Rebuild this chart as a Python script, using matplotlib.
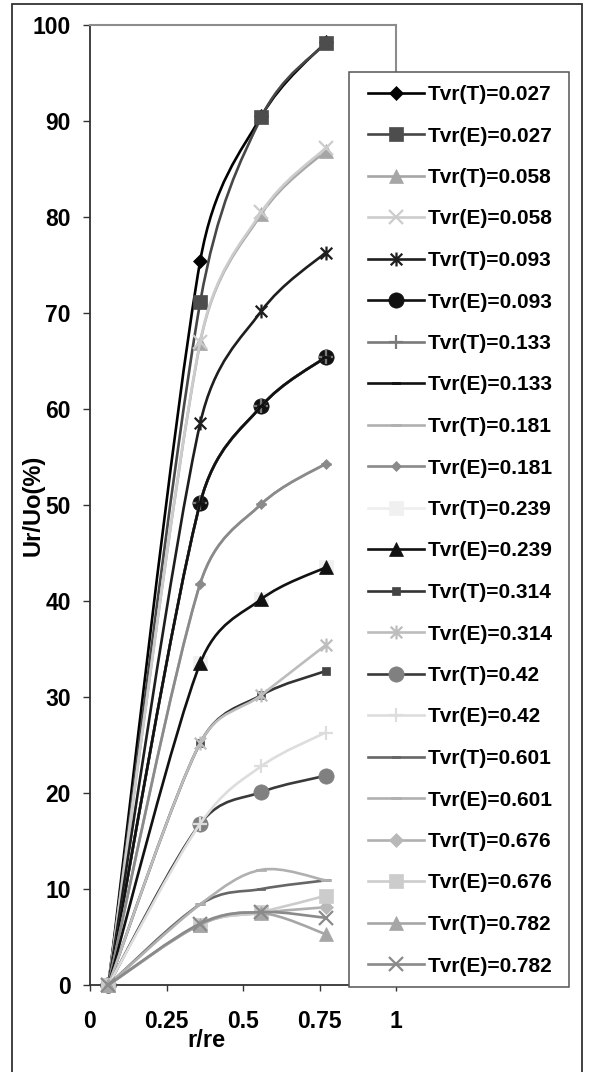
import matplotlib
matplotlib.use("Agg")
import matplotlib.pyplot as plt
from matplotlib.path import Path
from matplotlib.patches import PathPatch, Rectangle
from matplotlib.lines import Line2D
import numpy as np

plt.rcParams['font.family'] = ['Liberation Sans', 'DejaVu Sans']
plt.rcParams['font.weight'] = 'bold'

# ---------------- data ----------------
r_re = [0.06, 0.36, 0.56, 0.77]

labels = ["Tvr(T)=0.027", "Tvr(E)=0.027", "Tvr(T)=0.058", "Tvr(E)=0.058",
          "Tvr(T)=0.093", "Tvr(E)=0.093", "Tvr(T)=0.133", "Tvr(E)=0.133",
          "Tvr(T)=0.181", "Tvr(E)=0.181", "Tvr(T)=0.239", "Tvr(E)=0.239",
          "Tvr(T)=0.314", "Tvr(E)=0.314", "Tvr(T)=0.42", "Tvr(E)=0.42",
          "Tvr(T)=0.601", "Tvr(E)=0.601", "Tvr(T)=0.676", "Tvr(E)=0.676",
          "Tvr(T)=0.782", "Tvr(E)=0.782"]

ur_uo = [
    [0, 75.4, 90.5, 98.2],
    [0, 71.1, 90.4, 98.1],
    [0, 66.9, 80.3, 86.9],
    [0, 67.0, 80.5, 87.2],
    [0, 58.5, 70.2, 76.3],
    [0, 50.2, 60.3, 65.4],
    [0, 50.2, 60.3, 65.4],
    [0, 50.2, 60.3, 65.4],
    [0, 41.8, 50.1, 54.3],
    [0, 41.8, 50.1, 54.3],
    [0, 33.5, 40.2, 43.5],
    [0, 33.5, 40.2, 43.5],
    [0, 25.2, 30.2, 32.7],
    [0, 25.2, 30.2, 35.4],
    [0, 16.8, 20.1, 21.8],
    [0, 16.8, 22.8, 26.3],
    [0, 8.4, 10.0, 10.9],
    [0, 8.4, 12.0, 10.9],
    [0, 6.3, 7.5, 8.1],
    [0, 6.3, 7.6, 9.3],
    [0, 6.3, 7.5, 5.3],
    [0, 6.4, 7.6, 7.0],
]

# ---------------- styles ----------------
asterisk = Path([(-1, -1), (1, 1), (-1, 1), (1, -1), (0, -1.2), (0, 1.2)],
                [Path.MOVETO, Path.LINETO, Path.MOVETO, Path.LINETO, Path.MOVETO, Path.LINETO])
dash = Path([(-1, -0.3), (1, -0.3), (1, 0.3), (-1, 0.3), (-1, -0.3)],
            [Path.MOVETO, Path.LINETO, Path.LINETO, Path.LINETO, Path.CLOSEPOLY])

line_colors = ["#000000", "#474747", "#a6a6a6", "#cccccc", "#1e1e1e", "#111111",
               "#7a7a7a", "#111111", "#b0b0b0", "#8a8a8a", "#eeeeee", "#111111",
               "#333333", "#bdbdbd", "#3a3a3a", "#dddddd", "#666666", "#b0b0b0",
               "#b0b0b0", "#cccccc", "#a6a6a6", "#8a8a8a"]
marker_colors = ["#000000", "#4d4d4d", "#a6a6a6", "#cccccc", "#1e1e1e", "#111111",
                 "#7a7a7a", "#111111", "#b0b0b0", "#8a8a8a", "#f0f0f0", "#111111",
                 "#444444", "#bdbdbd", "#808080", "#dddddd", "#666666", "#b0b0b0",
                 "#b8b8b8", "#cccccc", "#a6a6a6", "#8a8a8a"]
markers = ["D", "s", "^", "x", asterisk, "o", "+", dash, dash, "D", "s", "^",
           "s", asterisk, "o", "+", dash, dash, "D", "s", "^", "x"]
marker_sizes = [7, 10, 10.5, 10, 10, 11, 10, 6, 7, 5.5, 9.5, 10.5,
                5.5, 10, 11, 10, 6, 7, 7, 10, 10.5, 10]

W, H = 589, 1072
fig = plt.figure(figsize=(W / 100, H / 100), dpi=100)
ax = fig.add_axes([90 / W, (H - 985) / H, 306 / W, 960 / H])
ax.set_xlim(0, 1)
ax.set_ylim(0, 100)


def excel_smooth(xs, ys):
    # Excel-style smoothed line: Bezier handles of 1/6 of the neighbour chord,
    # limited to half the segment length, worked out in screen space
    p = ax.transData.transform(np.column_stack([xs, ys]).astype(float))
    n = len(p)
    verts, codes = [p[0]], [Path.MOVETO]
    for i in range(n - 1):
        seg = np.linalg.norm(p[i + 1] - p[i])
        t0 = (p[i + 1] - p[max(i - 1, 0)]) / 6
        t1 = (p[min(i + 2, n - 1)] - p[i]) / 6
        for t in (t0, t1):
            L = np.linalg.norm(t)
            if L > seg / 2:
                t *= (seg / 2) / L
        verts += [p[i] + t0, p[i + 1] - t1, p[i + 1]]
        codes += [Path.CURVE4] * 3
    return Path(ax.transData.inverted().transform(np.array(verts)), codes)


handles = []
for i, ys in enumerate(ur_uo):
    z = 3 + i * 0.01
    ax.add_patch(PathPatch(excel_smooth(r_re, ys), fill=False, edgecolor=line_colors[i],
                           lw=1.9, zorder=z, capstyle='round'))
    filled = markers[i] not in ("x", "+") and markers[i] is not asterisk
    mkw = dict(marker=markers[i], markersize=marker_sizes[i],
               markerfacecolor=marker_colors[i] if filled else "none",
               markeredgecolor=marker_colors[i],
               markeredgewidth=0.5 if filled else 1.6)
    ax.plot(r_re, ys, linestyle="none", clip_on=False, zorder=z + 0.005, **mkw)
    handles.append(Line2D([], [], color=line_colors[i], lw=1.9, **mkw))

ax.set_xticks([0, 0.25, 0.5, 0.75, 1])
ax.set_xticklabels(["0", "0.25", "0.5", "0.75", "1"])
ax.set_yticks(range(0, 101, 10))

for s in ("left", "bottom"):
    ax.spines[s].set_color("#333333")
    ax.spines[s].set_linewidth(1.3)
for s in ("top", "right"):
    ax.spines[s].set_color("#8c8c8c")
    ax.spines[s].set_linewidth(1.5)

ax.tick_params(axis="y", direction="out", length=5, width=1, color="#333333",
               pad=8.9, labelsize=16.5)
ax.tick_params(axis="x", direction="out", length=4.3, width=1, color="#333333",
               pad=13.5, labelsize=16.5)

ax.set_xlabel("r/re", fontsize=17, fontweight="bold")
ax.xaxis.set_label_coords(0.382, -0.046)
ax.set_ylabel("Ur/Uo(%)", fontsize=17, fontweight="bold")
ax.yaxis.label.set_va("center")
ax.yaxis.set_label_coords(-0.186, 0.5)

# legend frame and outer chart border
fig.patches.append(Rectangle((349 / W, (H - 987) / H), 220 / W, 915 / H,
                             transform=fig.transFigure, facecolor="white",
                             edgecolor="#555555", lw=1.1, zorder=1))
fig.patches.append(Rectangle((12 / W, -0.02), 570 / W, (H - 4) / H + 0.02,
                             transform=fig.transFigure, facecolor="none",
                             edgecolor="#333333", lw=1.3, zorder=1))

fig.legend(handles, labels, loc="upper left", bbox_to_anchor=(368 / W, 1 - 85 / H),
           bbox_transform=fig.transFigure, frameon=False, borderpad=0,
           borderaxespad=0, handlelength=2.69, handletextpad=0.2,
           labelspacing=1.08, prop={"size": 15, "weight": "bold"}, numpoints=1)

fig.savefig("out.png", dpi=100)
